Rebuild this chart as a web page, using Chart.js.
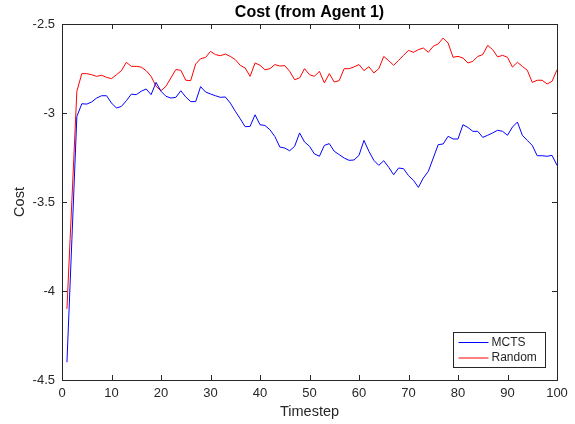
<!DOCTYPE html>
<html>
<head>
<meta charset="utf-8">
<script src="https://cdn.jsdelivr.net/npm/chart.js@4"></script>
<style>
  html, body { margin: 0; padding: 0; background: #fff; }
  #wrap { width: 575px; height: 424px; }
</style>
</head>
<body>
<div id="wrap"><canvas id="costChart" width="575" height="424"></canvas></div>
<script>
// values
const timesteps = [
  1, 2, 3, 4, 5, 6, 7, 8, 9, 10, 11, 12, 13, 14, 15, 16, 17, 18, 19, 20,
  21, 22, 23, 24, 25, 26, 27, 28, 29, 30, 31, 32, 33, 34, 35, 36, 37, 38, 39, 40,
  41, 42, 43, 44, 45, 46, 47, 48, 49, 50, 51, 52, 53, 54, 55, 56, 57, 58, 59, 60,
  61, 62, 63, 64, 65, 66, 67, 68, 69, 70, 71, 72, 73, 74, 75, 76, 77, 78, 79, 80,
  81, 82, 83, 84, 85, 86, 87, 88, 89, 90, 91, 92, 93, 94, 95, 96, 97, 98, 99, 100
];

const mctsCost = [
  -4.400, -3.710, -3.020, -2.948, -2.950, -2.938, -2.916, -2.903, -2.903, -2.944,
  -2.972, -2.963, -2.931, -2.894, -2.897, -2.878, -2.865, -2.897, -2.828, -2.878,
  -2.906, -2.916, -2.912, -2.875, -2.910, -2.936, -2.936, -2.852, -2.882, -2.893,
  -2.903, -2.912, -2.910, -2.944, -2.990, -3.032, -3.077, -3.075, -3.010, -3.066,
  -3.070, -3.094, -3.132, -3.191, -3.197, -3.212, -3.187, -3.112, -3.163, -3.187,
  -3.230, -3.243, -3.182, -3.172, -3.215, -3.234, -3.253, -3.266, -3.264, -3.238,
  -3.154, -3.215, -3.266, -3.294, -3.268, -3.305, -3.347, -3.309, -3.313, -3.352,
  -3.378, -3.418, -3.365, -3.328, -3.253, -3.178, -3.174, -3.131, -3.146, -3.146,
  -3.066, -3.081, -3.103, -3.103, -3.137, -3.125, -3.112, -3.097, -3.103, -3.125,
  -3.079, -3.051, -3.125, -3.154, -3.182, -3.240, -3.240, -3.243, -3.238, -3.294
];

const randomCost = [
  -4.100, -3.490, -2.878, -2.779, -2.779, -2.785, -2.794, -2.788, -2.800, -2.807,
  -2.785, -2.762, -2.715, -2.738, -2.738, -2.742, -2.762, -2.794, -2.850, -2.875,
  -2.850, -2.803, -2.756, -2.760, -2.816, -2.818, -2.725, -2.695, -2.688, -2.654,
  -2.672, -2.678, -2.669, -2.682, -2.700, -2.732, -2.747, -2.794, -2.719, -2.732,
  -2.757, -2.751, -2.728, -2.736, -2.734, -2.766, -2.813, -2.803, -2.751, -2.785,
  -2.794, -2.766, -2.831, -2.779, -2.826, -2.818, -2.751, -2.751, -2.741, -2.728,
  -2.762, -2.740, -2.775, -2.751, -2.682, -2.706, -2.732, -2.704, -2.676, -2.648,
  -2.659, -2.644, -2.635, -2.659, -2.625, -2.612, -2.579, -2.607, -2.687, -2.682,
  -2.691, -2.719, -2.710, -2.682, -2.672, -2.620, -2.644, -2.685, -2.676, -2.687,
  -2.742, -2.715, -2.738, -2.760, -2.828, -2.816, -2.816, -2.837, -2.822, -2.757
];

const seriesNames = ['MCTS', 'Random'];
const xTicks = [0, 10, 20, 30, 40, 50, 60, 70, 80, 90, 100];
const yTicks = [-4.5, -4, -3.5, -3, -2.5];

const FONT = '"Liberation Sans", Arial, Helvetica, sans-serif';
const INK = '#262626';

const toPoints = (vals) => vals.map((v, i) => ({ x: timesteps[i], y: v }));

// MATLAB-like box with inward ticks + legend inside the axes
const matlabBox = {
    id: 'matlabBox',
    afterDatasetsDraw(chart) {
        const { ctx, chartArea: a, scales } = chart;
        const len = 5;
        ctx.save();
        ctx.strokeStyle = INK;
        ctx.lineWidth = 1;
        ctx.beginPath();
        xTicks.forEach(t => {
            const px = Math.round(scales.x.getPixelForValue(t)) + 0.5;
            ctx.moveTo(px, a.bottom); ctx.lineTo(px, a.bottom - len);
            ctx.moveTo(px, a.top); ctx.lineTo(px, a.top + len);
        });
        yTicks.forEach(t => {
            const py = Math.round(scales.y.getPixelForValue(t)) + 0.5;
            ctx.moveTo(a.left, py); ctx.lineTo(a.left + len, py);
            ctx.moveTo(a.right, py); ctx.lineTo(a.right - len, py);
        });
        ctx.stroke();
        ctx.strokeRect(Math.round(a.left) + 0.5, Math.round(a.top) + 0.5,
            Math.round(a.right - a.left), Math.round(a.bottom - a.top));

        // legend, lower right
        const lw = 92, lh = 35;
        const lx = Math.round(a.right) - 104 + 0.5;
        const ly = Math.round(a.bottom) - 48 + 0.5;
        ctx.fillStyle = '#fff';
        ctx.fillRect(lx, ly, lw, lh);
        ctx.strokeStyle = INK;
        ctx.strokeRect(lx, ly, lw, lh);
        ctx.font = '12px ' + FONT;
        ctx.textBaseline = 'middle';
        chart.data.datasets.forEach((ds, i) => {
            const yy = ly + 10 + i * 15.5;
            ctx.strokeStyle = ds.borderColor;
            ctx.beginPath();
            ctx.moveTo(lx + 5, yy); ctx.lineTo(lx + 35, yy);
            ctx.stroke();
            ctx.fillStyle = INK;
            ctx.fillText(ds.label, lx + 38, yy);
        });
        ctx.restore();
    }
};

new Chart(document.getElementById('costChart'), {
    type: 'line',
    data: {
        datasets: [
            { label: seriesNames[0], data: toPoints(mctsCost), borderColor: '#0000ff', borderWidth: 1, pointRadius: 0, tension: 0 },
            { label: seriesNames[1], data: toPoints(randomCost), borderColor: '#ff0000', borderWidth: 1, pointRadius: 0, tension: 0 }
        ]
    },
    options: {
        responsive: false,
        animation: false,
        layout: { padding: { left: 0, right: 18, top: 0, bottom: 0 } },
        plugins: {
            legend: { display: false },
            tooltip: { enabled: false },
            title: {
                display: true,
                fullSize: false,
                text: 'Cost (from Agent 1)',
                color: '#000',
                font: { family: FONT, size: 16, weight: 'bold' },
                padding: { top: 3, bottom: 1.8 }
            }
        },
        scales: {
            x: {
                type: 'linear',
                min: 0, max: 100,
                afterBuildTicks: (s) => { s.ticks = xTicks.map(v => ({ value: v })); },
                afterFit: (s) => { s.height = 44; },
                grid: { display: false, drawTicks: false, tickLength: 0 },
                border: { display: false },
                ticks: { color: INK, font: { family: FONT, size: 13 }, padding: 6, maxRotation: 0, callback: (v) => String(v) },
                title: { display: true, text: 'Timestep', color: INK, font: { family: FONT, size: 14.5 }, padding: { top: 0, bottom: 3 } }
            },
            y: {
                type: 'linear',
                min: -4.5, max: -2.5,
                afterBuildTicks: (s) => { s.ticks = yTicks.map(v => ({ value: v })); },
                afterFit: (s) => { s.width = 62; },
                grid: { display: false, drawTicks: false, tickLength: 0 },
                border: { display: false },
                ticks: { color: INK, font: { family: FONT, size: 13 }, padding: 7, callback: (v) => String(v) },
                title: { display: true, text: 'Cost', color: INK, font: { family: FONT, size: 14.5 }, padding: { top: 11, bottom: 0 } }
            }
        }
    },
    plugins: [matlabBox]
});
</script>
</body>
</html>
